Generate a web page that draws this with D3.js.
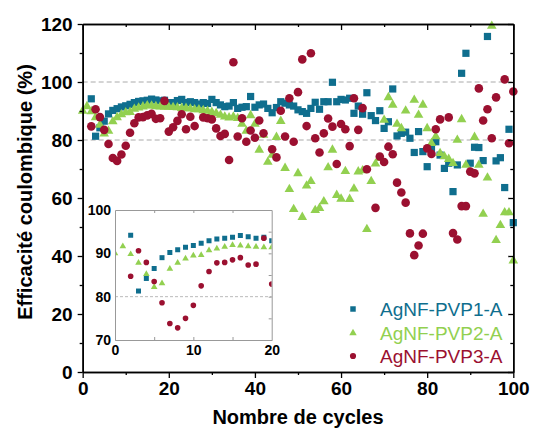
<!DOCTYPE html>
<html><head><meta charset="utf-8">
<script src="https://cdn.jsdelivr.net/npm/d3@7"></script>
<style>body{margin:0;background:#fff} svg{display:block}</style>
</head><body><svg id="c" width="533" height="432"></svg>
<script>
// ---------- data ----------
const cycles = d3.range(0, 101);
const seriesNames = ["AgNF-PVP1-A", "AgNF-PVP2-A", "AgNF-PVP3-A"];
const pvp1 = [null, null,
  94.2, 81.3, 84.2, 86.5, 89.0, 90.2, 90.8, 91.4, 91.8,
  92.3, 92.9, 93.3, 93.5, 93.7, 94.1, 93.8, 93.5, 93.7, 92.9,
  92.9, 93.6, 94.0, 92.9, 93.2, 92.9, 92.4, 92.9, 92.6, 94.0,
  92.9, 92.1, 91.5, 91.7, 92.9, 90.9, 91.3, 91.5, 95.0, 91.3,
  92.1, 92.4, 90.9, 89.4, 91.2, 93.2, 92.7, 92.1, 91.7, 90.4,
  89.8, 89.2, 90.9, 93.0, 90.6, 93.2, 93.2, 99.9, 93.2, 94.0,
  93.8, 94.4, 89.2, 91.7, 88.9, 96.3, 88.4, 86.7, 90.1, 84.0,
  86.3, 97.6, 81.4, 82.3, 82.7, 80.6, 75.7, 82.9, 76.0, 70.8,
  76.8, 79.4, 74.8, 70.2, 72.0, 62.2, 71.4, 103.0, 109.9, 72.0,
  77.5, 77.4, 72.9, 115.7, null, 72.8, 73.9, 63.6, 83.7, 51.5];
const pvp2 = [90.0, 91.6,
  89.8, 87.8, 85.2, 82.2, 83.1, 86.4, 87.8, 88.8, 89.5,
  89.6, 90.7, 91.1, 91.5, 91.9, 91.8, 91.6, 91.5, 91.4, 91.4,
  91.3, 91.2, 91.0, 91.0, 90.8, 90.5, 90.5, 90.2, 90.0, 89.6,
  89.2, 88.6, 88.0, 87.7, 88.0, 87.5, 85.5, 83.1, 88.5, 85.5,
  76.6, 81.7, 72.4, 74.8, 81.0, 86.5, 70.3, 63.0, 56.1, 68.5,
  53.4, 64.2, 65.8, 55.8, 56.5, 58.8, 70.5, 76.6, 61.0, 59.7,
  69.2, 59.6, 63.2, 69.1, 69.5, 49.2, 65.8, 71.8, 73.7, 86.9,
  94.7, 92.1, 85.5, 84.0, 90.1, null, 93.8, 88.6, 92.1, 84.0,
  78.9, 81.2, 75.4, 74.3, 73.4, 72.0, 80.0, 87.1, 71.4, null,
  81.0, 71.4, 54.5, 67.0, 119.3, 45.4, 50.6, 55.0, 55.0, 38.4];
const pvp3 = [null, null,
  84.7, 90.6, 87.9, 83.5, 78.6, 73.8, 72.8, 75.0, 78.0,
  82.5, 85.8, 87.8, 87.9, 88.5, 89.0, 87.3, 87.5, 93.5, 82.9,
  84.4, 86.6, 88.9, 83.7, 88.0, 84.8, null, 87.8, 87.5, 87.1,
  84.0, 81.4, 82.1, 73.1, 106.8, 81.2, 87.5, 79.4, 83.3, 80.8,
  86.7, 82.3, null, 76.8, 74.0, 90.1, 81.2, 94.4, 79.4, 96.5,
  107.8, 84.8, 109.9, 80.6, 75.7, 82.3, 87.4, 84.6, 71.7, 85.5,
  83.7, 77.9, 94.4, 83.5, 91.0, 69.9, null, 56.6, 74.3, 72.4,
  77.7, 75.1, 65.3, 61.9, 58.4, 47.8, 40.3, 43.6, 47.7, 77.1,
  75.2, 83.7, 87.1, null, 87.8, 47.9, 45.7, 57.2, 57.2, 69.1,
  68.5, 97.8, 86.7, 90.6, 80.6, 94.7, null, 100.9, 78.9, 96.7];
const mainYTicks = [0, 20, 40, 60, 80, 100, 120];
const mainXTicks = [0, 20, 40, 60, 80, 100];
const insetXTicks = [0, 10, 20];
const insetYTicks = [70, 80, 90, 100];

// ---------- styles ----------
const colors = ["#0f6e8e", "#92d050", "#9b1030"];
const shapes = [d3.symbolSquare, d3.symbolTriangle, d3.symbolCircle];
const mainSizes = [52, 40, 58];
const insetSizes = [25, 19, 25];
const legendSizes = [30, 24, 30];
const series = [pvp1, pvp2, pvp3];
const FONT = "Arial, 'Liberation Sans', sans-serif";

const svg = d3.select("#c");
svg.append("rect").attr("width", 533).attr("height", 432).attr("fill", "#fff");

const x = d3.scaleLinear().domain([0, 100]).range([82.67, 513.3]);
const y = d3.scaleLinear().domain([0, 120]).range([372, 24]);

// dashed reference lines
[80, 100].forEach(v => {
  svg.append("line").attr("x1", x(0)).attr("x2", x(100))
    .attr("y1", y(v)).attr("y2", y(v))
    .attr("stroke", "#aaa").attr("stroke-width", 1).attr("stroke-dasharray", "5,3");
});

// points
function drawPoints(g, xs, ys, sizes) {
  series.forEach((arr, i) => {
    const pts = cycles.map((c, k) => ({c, v: arr[k]})).filter(d => d.v !== null);
    g.append("g").selectAll("path").data(pts).join("path")
      .attr("d", d3.symbol().type(shapes[i]).size(sizes[i]))
      .attr("transform", d => `translate(${xs(d.c)},${ys(d.v)})`)
      .attr("fill", colors[i]);
  });
}
drawPoints(svg.append("g"), x, y, mainSizes);

// axes
function styleAxis(g, labels) {
  g.select(".domain").attr("stroke", "#000").attr("stroke-width", 1.5);
  g.selectAll(".tick line").attr("stroke", "#000").attr("stroke-width", 1.3);
  g.selectAll(".tick text").attr("font-family", FONT).attr("font-weight", "bold")
    .attr("font-size", 19).attr("fill", "#000");
  if (!labels) g.selectAll(".tick text").remove();
}
const minorY = d3.range(10, 120, 20);
const minorX = d3.range(10, 100, 20);
// left
svg.append("g").attr("transform", `translate(${x(0)},0)`)
  .call(d3.axisLeft(y).tickValues(minorY).tickSize(3).tickSizeOuter(0))
  .call(g => styleAxis(g, false));
svg.append("g").attr("transform", `translate(${x(0)},0)`)
  .call(d3.axisLeft(y).tickValues(mainYTicks).tickSize(5).tickSizeOuter(0).tickPadding(5))
  .call(g => styleAxis(g, true));
// bottom
svg.append("g").attr("transform", `translate(0,${y(0)})`)
  .call(d3.axisBottom(x).tickValues(minorX).tickSize(3).tickSizeOuter(0))
  .call(g => styleAxis(g, false));
svg.append("g").attr("transform", `translate(0,${y(0)})`)
  .call(d3.axisBottom(x).tickValues(mainXTicks).tickSize(6).tickSizeOuter(0).tickPadding(4))
  .call(g => styleAxis(g, true));
// top (inward)
svg.append("g").attr("transform", `translate(0,${y(120)})`)
  .call(d3.axisTop(x).tickValues(minorX).tickSize(-3).tickSizeOuter(0))
  .call(g => styleAxis(g, false));
svg.append("g").attr("transform", `translate(0,${y(120)})`)
  .call(d3.axisTop(x).tickValues(mainXTicks).tickSize(-6).tickSizeOuter(0))
  .call(g => styleAxis(g, false));
// right (inward)
svg.append("g").attr("transform", `translate(${x(100)},0)`)
  .call(d3.axisRight(y).tickValues(minorY).tickSize(-3).tickSizeOuter(0))
  .call(g => styleAxis(g, false));
svg.append("g").attr("transform", `translate(${x(100)},0)`)
  .call(d3.axisRight(y).tickValues(mainYTicks).tickSize(-5).tickSizeOuter(0))
  .call(g => styleAxis(g, false));

// axis titles
svg.append("text").attr("x", (x(0) + x(100)) / 2).attr("y", 424)
  .attr("text-anchor", "middle").attr("font-family", FONT).attr("font-weight", "bold")
  .attr("font-size", 20).text("Nombre de cycles");
svg.append("text").attr("transform", "translate(32,192) rotate(-90)")
  .attr("text-anchor", "middle").attr("font-family", FONT).attr("font-weight", "bold")
  .attr("font-size", 20).text("Efficacité coulombique (%)");

// ---------- inset ----------
const ix = d3.scaleLinear().domain([0, 20]).range([115, 271.7]);
const iy = d3.scaleLinear().domain([70, 100]).range([340, 210]);
const inset = svg.append("g");
inset.append("rect").attr("x", ix(0)).attr("y", iy(100))
  .attr("width", ix(20) - ix(0)).attr("height", iy(70) - iy(100))
  .attr("fill", "#fff");
svg.append("clipPath").attr("id", "insetClip").append("rect")
  .attr("x", ix(0)).attr("y", iy(100))
  .attr("width", ix(20) - ix(0)).attr("height", iy(70) - iy(100));
inset.append("line").attr("x1", ix(0)).attr("x2", ix(20))
  .attr("y1", iy(80)).attr("y2", iy(80))
  .attr("stroke", "#aaa").attr("stroke-width", 0.8).attr("stroke-dasharray", "3,2");
drawPoints(inset.append("g").attr("clip-path", "url(#insetClip)"), ix, iy, insetSizes);
function styleInset(g, labels) {
  g.select(".domain").attr("stroke", "#999").attr("stroke-width", 1);
  g.selectAll(".tick line").attr("stroke", "#999").attr("stroke-width", 1);
  g.selectAll(".tick text").attr("font-family", FONT).attr("font-weight", "bold")
    .attr("font-size", 14).attr("fill", "#000");
  if (!labels) g.selectAll(".tick text").remove();
}
const iMinorX = [5, 10, 15];
const iMinorY = [75, 80, 85, 90, 95];
inset.append("g").attr("transform", `translate(0,${iy(70)})`)
  .call(d3.axisBottom(ix).tickValues(iMinorX).tickSize(-3).tickSizeOuter(0))
  .call(g => styleInset(g, false));
inset.append("g").attr("transform", `translate(0,${iy(70)})`)
  .call(d3.axisBottom(ix).tickValues(insetXTicks).tickSize(0).tickSizeOuter(0).tickPadding(5))
  .call(g => styleInset(g, true));
inset.append("g").attr("transform", `translate(0,${iy(100)})`)
  .call(d3.axisTop(ix).tickValues(iMinorX).tickSize(-3).tickSizeOuter(0))
  .call(g => styleInset(g, false));
inset.append("g").attr("transform", `translate(${ix(0)},0)`)
  .call(d3.axisLeft(iy).tickValues(insetYTicks).tickSize(0).tickSizeOuter(0).tickPadding(4))
  .call(g => styleInset(g, true));
inset.append("g").attr("transform", `translate(${ix(20)},0)`)
  .call(d3.axisRight(iy).tickValues(iMinorY).tickSize(-3).tickSizeOuter(0))
  .call(g => styleInset(g, false));

// ---------- legend ----------
const legendY = [309, 333, 356];
seriesNames.forEach((name, i) => {
  svg.append("path").attr("d", d3.symbol().type(shapes[i]).size(legendSizes[i]))
    .attr("transform", `translate(353,${legendY[i]})`).attr("fill", colors[i]);
  svg.append("text").attr("x", 380).attr("y", legendY[i]).attr("dy", "0.36em")
    .attr("font-family", FONT).attr("font-size", 19).attr("fill", colors[i]).text(name);
});
</script>
</body></html>
